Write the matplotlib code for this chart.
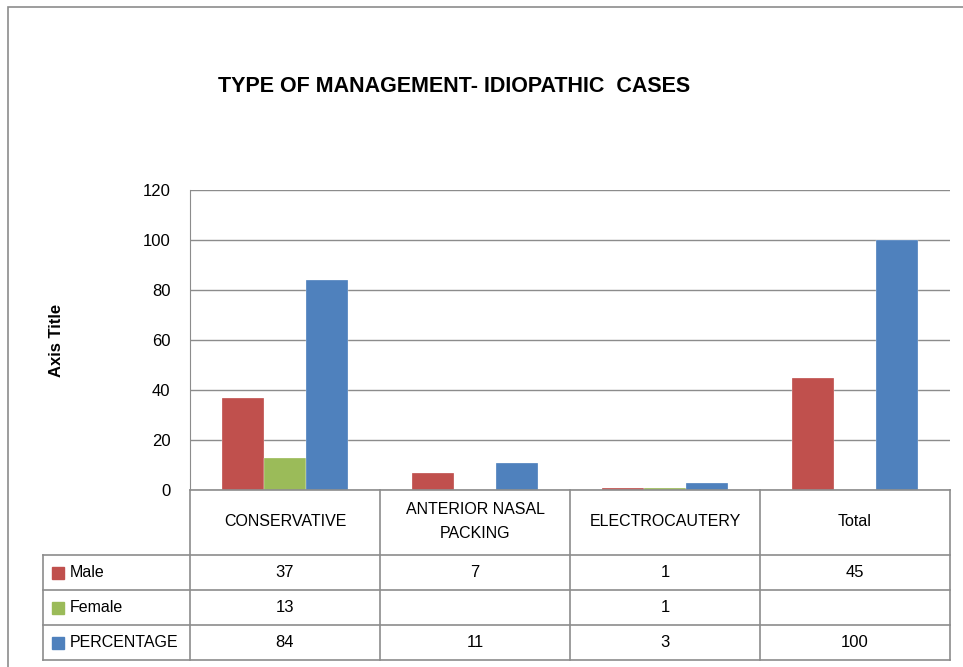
import matplotlib
matplotlib.use("Agg")
import matplotlib.pyplot as plt
import numpy as np
from matplotlib.lines import Line2D
from matplotlib.patches import Rectangle

categories = ["CONSERVATIVE", "ANTERIOR NASAL\nPACKING", "ELECTROCAUTERY", "Total"]
series_names = ["Male", "Female", "PERCENTAGE"]
male = [37, 7, 1, 45]
female = [13, np.nan, 1, np.nan]
percentage = [84, 11, 3, 100]
colors = ["#C0504D", "#9BBB59", "#4F81BD"]
yticks = [0, 20, 40, 60, 80, 100, 120]

plt.rcParams['font.family'] = ['Liberation Sans Narrow', 'Liberation Sans', 'DejaVu Sans']

W, H = 963, 667
fig = plt.figure(figsize=(W / 100, H / 100), dpi=100)

def fx(px):
    return px / W

def fy(py):
    return 1 - py / H

# outer chart border
fig.add_artist(Rectangle((fx(8), fy(700)), fx(1000), fy(7) - fy(700), transform=fig.transFigure,
                         fill=False, edgecolor="#8C8C8C", lw=1.2))

ax = fig.add_axes([fx(190), fy(490), fx(950) - fx(190), fy(190) - fy(490)])
n = len(categories)
x = np.arange(n)
w = 1 / 4.5
for i, (vals, c) in enumerate(zip([male, female, percentage], colors)):
    ax.bar(x + (i - 1) * w, vals, width=w, color=c, edgecolor="white", linewidth=0.2, zorder=3)

ax.set_xlim(-0.5, n - 0.5)
ax.set_ylim(0, 120)
ax.set_yticks(yticks)
ax.set_yticklabels([str(t) for t in yticks], fontsize=12)
ax.tick_params(axis='y', length=0, pad=14)
ax.set_xticks([])
ax.yaxis.grid(True, color="#8C8C8C", lw=1.0, zorder=0)
for s in ["top", "right", "bottom"]:
    ax.spines[s].set_visible(False)
ax.spines["left"].set_color("#8C8C8C")
ax.set_ylabel("Axis Title", fontsize=12, fontweight="bold", labelpad=57)

fig.text(fx(454), fy(86), "TYPE OF MANAGEMENT- IDIOPATHIC  CASES", ha="center", va="center",
         fontsize=15.5, fontweight="bold")

# data table
grid_c = "#8C8C8C"
col_edges = [190, 380, 570, 760, 950]
row_edges = [490, 555, 590, 625, 660]

def hline(x0, x1, y):
    fig.add_artist(Line2D([fx(x0), fx(x1)], [fy(y), fy(y)], transform=fig.transFigure, color=grid_c, lw=1.2))

def vline(xp, y0, y1):
    fig.add_artist(Line2D([fx(xp), fx(xp)], [fy(y0), fy(y1)], transform=fig.transFigure, color=grid_c, lw=1.2))

hline(190, 950, 490)
for r in row_edges[1:]:
    hline(43, 950, r)
for c in col_edges:
    vline(c, 490, 660)
vline(43, 555, 660)

for j, cat in enumerate(categories):
    cx = (col_edges[j] + col_edges[j + 1]) / 2
    fig.text(fx(cx), fy(522), cat, ha="center", va="center", fontsize=11.5, linespacing=1.75)

rows = [male, female, percentage]
for r, (name, vals, c) in enumerate(zip(series_names, rows, colors)):
    cy = (row_edges[r + 1] + row_edges[r + 2]) / 2
    fig.add_artist(Rectangle((fx(52), fy(cy + 6)), fx(12), fy(cy - 6) - fy(cy + 6),
                             transform=fig.transFigure, color=c))
    fig.text(fx(70), fy(cy), name, ha="left", va="center", fontsize=11.5)
    for j, v in enumerate(vals):
        if not np.isnan(v):
            cx = (col_edges[j] + col_edges[j + 1]) / 2
            fig.text(fx(cx), fy(cy), str(int(v)), ha="center", va="center", fontsize=12)

fig.savefig("out.png", dpi=100)
